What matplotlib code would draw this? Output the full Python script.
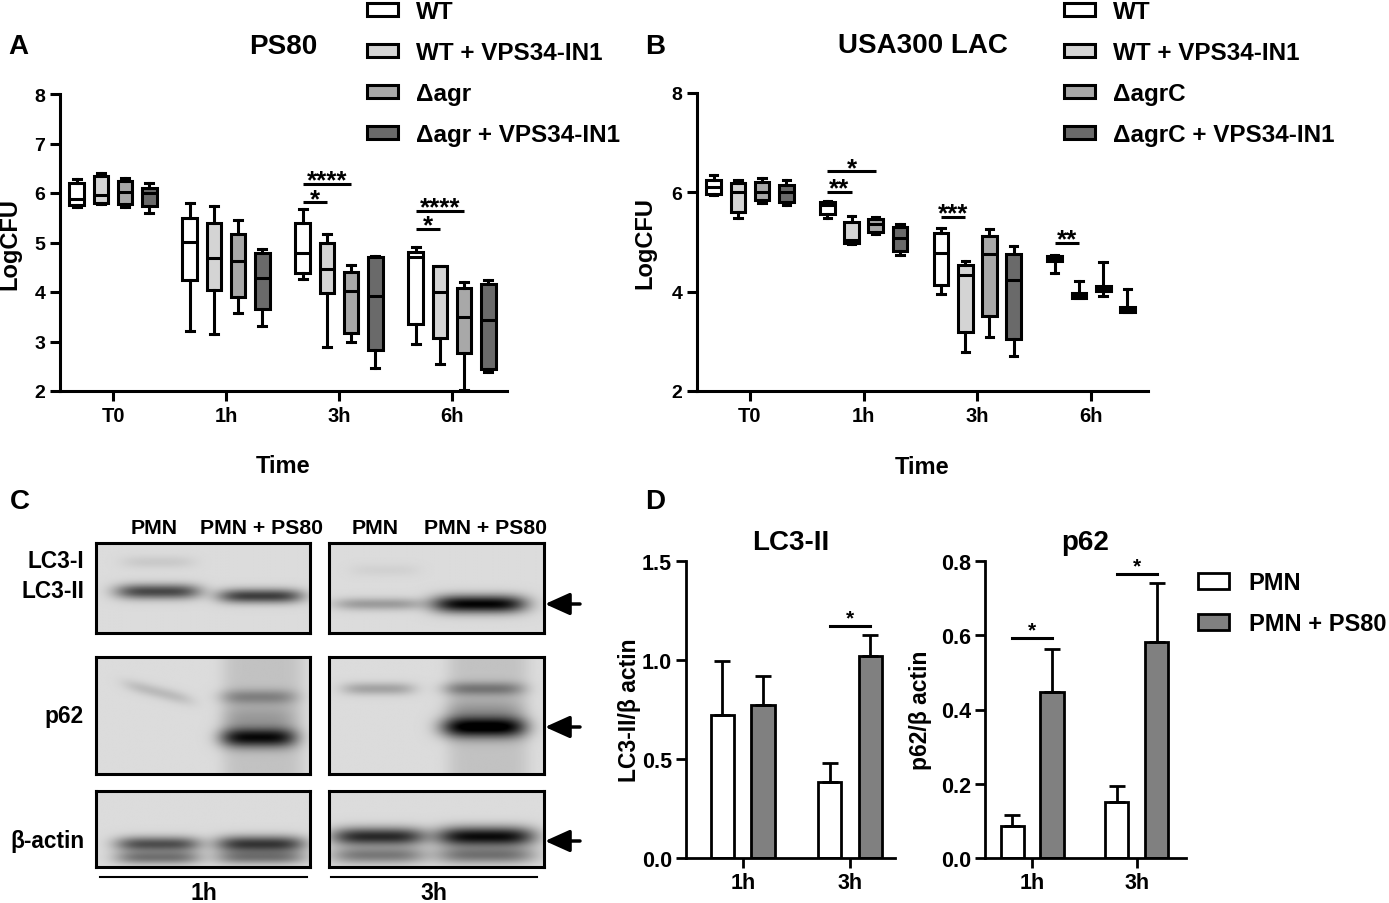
import numpy as np
import matplotlib
matplotlib.use('Agg')
import matplotlib.pyplot as plt
from matplotlib.patches import Patch, FancyArrowPatch
from matplotlib.lines import Line2D

plt.rcParams['font.family'] = ['Liberation Sans', 'DejaVu Sans']
plt.rcParams['font.weight'] = 'bold'
plt.rcParams['axes.labelweight'] = 'bold'

# ---------- datos ----------
times = ['T0', '1h', '3h', '6h']
cepas_ps80 = ['WT', 'WT + VPS34-IN1', '\u0394agr', '\u0394agr + VPS34-IN1']
cepas_lac = ['WT', 'WT + VPS34-IN1', '\u0394agrC', '\u0394agrC + VPS34-IN1']
colores = ['#ffffff', '#d4d4d4', '#a8a8a8', '#6a6a6a']

# [min, q1, mediana, q3, max] por tiempo
ps80_wt = [[5.72, 5.76, 5.87, 6.20, 6.28], [3.21, 4.24, 5.02, 5.49, 5.80],
           [4.27, 4.38, 4.78, 5.40, 5.67], [2.95, 3.36, 4.70, 4.81, 4.91]]
ps80_wt_vps = [[5.77, 5.80, 5.95, 6.35, 6.40], [3.16, 4.04, 4.68, 5.39, 5.74],
               [2.89, 3.97, 4.46, 4.99, 5.18], [2.54, 3.08, 4.00, 4.52, 4.53]]
ps80_agr = [[5.72, 5.77, 6.02, 6.25, 6.30], [3.58, 3.90, 4.62, 5.18, 5.46],
            [2.98, 3.18, 4.02, 4.41, 4.55], [2.03, 2.76, 3.50, 4.08, 4.20]]
ps80_agr_vps = [[5.60, 5.74, 5.99, 6.10, 6.21], [3.31, 3.66, 4.29, 4.78, 4.86],
                [2.47, 2.83, 3.91, 4.70, 4.73], [2.38, 2.45, 3.43, 4.16, 4.24]]

lac_wt = [[5.94, 5.97, 6.10, 6.25, 6.34], [5.48, 5.57, 5.75, 5.80, 5.82],
          [3.96, 4.14, 4.78, 5.19, 5.29], [4.38, 4.62, 4.66, 4.71, 4.73]]
lac_wt_vps = [[5.48, 5.60, 6.00, 6.18, 6.24], [4.96, 4.98, 5.05, 5.40, 5.52],
              [2.79, 3.19, 4.33, 4.53, 4.62], [3.88, 3.88, 3.92, 3.97, 4.21]]
lac_agr = [[5.78, 5.84, 6.00, 6.20, 6.28], [5.16, 5.20, 5.37, 5.47, 5.50],
           [3.09, 3.51, 4.75, 5.13, 5.27], [3.92, 4.01, 4.06, 4.11, 4.60]]
lac_agr_vps = [[5.75, 5.80, 6.00, 6.15, 6.24], [4.73, 4.81, 5.08, 5.31, 5.37],
               [2.71, 3.05, 4.24, 4.75, 4.91], [3.59, 3.59, 3.64, 3.69, 4.06]]

# (tiempo, cepa a, cepa b, altura, texto)
sig_ps80 = [(2, 0, 1, 5.81, '*'), (2, 0, 2, 6.19, '****'),
            (3, 0, 1, 5.27, '*'), (3, 0, 2, 5.64, '****')]
sig_lac = [(1, 0, 1, 6.00, '**'), (1, 0, 2, 6.42, '*'),
           (2, 0, 1, 5.51, '***'), (3, 0, 1, 4.98, '**')]

# panel D
grupos_d = ['1h', '3h']
lc3_pmn = [0.724, 0.386]
lc3_pmn_err = [0.272, 0.094]
lc3_ps80 = [0.773, 1.018]
lc3_ps80_err = [0.147, 0.109]
p62_pmn = [0.085, 0.150]
p62_pmn_err = [0.031, 0.044]
p62_ps80 = [0.448, 0.583]
p62_ps80_err = [0.115, 0.157]
sig_lc3 = [(1, 1.17, '*')]
sig_p62 = [(0, 0.592, '*'), (1, 0.764, '*')]

# bandas del western blot: (x, y, semiancho, grosor, oscuridad, inclinacion)
lc3_1h = [(0.29, 0.54, 0.20, 0.085, 0.58, 0), (0.29, 0.21, 0.17, 0.07, 0.07, 0),
          (0.77, 0.59, 0.20, 0.08, 0.62, 0)]
lc3_3h = [(0.23, 0.68, 0.21, 0.07, 0.25, 0), (0.26, 0.30, 0.16, 0.07, 0.04, 0),
          (0.70, 0.68, 0.22, 0.10, 0.85, 0)]
p62_1h = [(0.29, 0.30, 0.16, 0.055, 0.13, 0.45), (0.76, 0.34, 0.18, 0.065, 0.25, 0),
          (0.76, 0.69, 0.18, 0.085, 0.72, 0), (0.76, 0.52, 0.17, 0.11, 0.15, 0)]
p62_3h = [(0.23, 0.27, 0.17, 0.055, 0.22, 0), (0.72, 0.27, 0.19, 0.06, 0.30, 0),
          (0.72, 0.60, 0.20, 0.09, 0.82, 0), (0.72, 0.45, 0.18, 0.10, 0.15, 0)]
actin_1h = [(0.29, 0.70, 0.20, 0.10, 0.55, 0), (0.29, 0.88, 0.20, 0.09, 0.40, 0),
            (0.77, 0.70, 0.21, 0.11, 0.65, 0), (0.77, 0.88, 0.21, 0.09, 0.38, 0)]
actin_3h = [(0.23, 0.60, 0.22, 0.12, 0.70, 0), (0.23, 0.85, 0.22, 0.11, 0.38, 0),
            (0.73, 0.60, 0.23, 0.13, 0.82, 0), (0.73, 0.85, 0.23, 0.11, 0.40, 0)]
# fondo oscuro de carril: (x0, x1, oscuridad)
p62_1h_carril = [(0.59, 0.97, 0.10)]
p62_3h_carril = [(0.55, 0.93, 0.10)]

W, H = 1389, 904
fig = plt.figure(figsize=(W / 100, H / 100), dpi=100)


def pax(x0, y0, x1, y1):
    return fig.add_axes([x0 / W, 1 - y1 / H, (x1 - x0) / W, (y1 - y0) / H])


def fpos(x, y):
    return x / W, 1 - y / H


def estilo(ax, lw=2.2):
    for s in ['top', 'right']:
        ax.spines[s].set_visible(False)
    for s in ['left', 'bottom']:
        ax.spines[s].set_linewidth(lw)
    ax.tick_params(width=lw, length=7.5, direction='out', pad=3)


offsets = [-0.32, -0.106, 0.106, 0.32]


def panel_box(ax, series, sigs, titulo, yticks):
    for k, serie in enumerate(series):
        stats = [dict(whislo=s[0], q1=s[1], med=s[2], q3=s[3], whishi=s[4], fliers=[])
                 for s in serie]
        pos = [i + offsets[k] for i in range(len(times))]
        ax.bxp(stats, positions=pos, widths=0.13, capwidths=0.065, showfliers=False,
               patch_artist=True, manage_ticks=False,
               boxprops=dict(facecolor=colores[k], edgecolor='black', linewidth=2.2),
               medianprops=dict(color='black', linewidth=2.2),
               whiskerprops=dict(color='black', linewidth=2.2),
               capprops=dict(color='black', linewidth=2.2))
    for t, a, b, y, txt in sigs:
        x1, x2 = t + offsets[a], t + offsets[b]
        ax.plot([x1, x2], [y, y], color='black', lw=2.2, solid_capstyle='butt', clip_on=False)
        ax.annotate(txt, xy=((x1 + x2) / 2, y), xytext=(0, -2.5), textcoords='offset points',
                    ha='center', va='baseline', fontsize=18.5)
    ax.set_ylim(2, 8)
    ax.set_yticks(yticks)
    ax.set_xticks(range(len(times)))
    ax.set_xticklabels(times)
    ax.tick_params(axis='y', labelsize=14)
    ax.tick_params(axis='x', labelsize=14.5)
    ax.set_ylabel('LogCFU', fontsize=17)
    ax.set_xlabel('Time', fontsize=17)
    ax.xaxis.label.set_va('center')
    ax.xaxis.set_label_coords(0.5, -75 / 297)
    ax.text(0.5, 1 + 48 / 297, titulo, transform=ax.transAxes, ha='center', va='center',
            fontsize=20)
    estilo(ax)


# ---------- panel A ----------
axA = pax(60, 95, 507, 392)
panel_box(axA, [ps80_wt, ps80_wt_vps, ps80_agr, ps80_agr_vps], sig_ps80, 'PS80',
          [2, 3, 4, 5, 6, 7, 8])
axA.set_xlim((60 - 113) / 113, (507 - 113) / 113)
axA.yaxis.set_label_coords((21 - 60) / 447, 0.5)

# ---------- panel B ----------
axB = pax(697, 94, 1148, 392)
panel_box(axB, [lac_wt, lac_wt_vps, lac_agr, lac_agr_vps], sig_lac, 'USA300 LAC',
          [2, 4, 6, 8])
axB.set_xlim((697 - 750) / 113.7, (1148 - 750) / 113.7)
axB.yaxis.set_label_coords((656 - 697) / 451, 0.5)


def leyenda(nombres, x):
    handles = [Patch(facecolor=c, edgecolor='black', linewidth=2.2) for c in colores]
    fig.legend(handles, nombres, loc='upper left', bbox_to_anchor=fpos(x, 1),
               frameon=False, fontsize=17.5, handlelength=1.27, handleheight=0.45,
               handletextpad=0.75, labelspacing=0.74, borderpad=0, borderaxespad=0)


leyenda(cepas_ps80, 367)
leyenda(cepas_lac, 1064)

# ---------- panel C ----------
def blot(ax, bandas, carriles=(), fondo=0.86):
    xs = np.linspace(0, 1, 300)
    ys = np.linspace(0, 1, 150)
    X, Y = np.meshgrid(xs, ys)
    osc = np.zeros_like(X)
    for x0, x1, d in carriles:
        osc += d * np.exp(-((X - (x0 + x1) / 2) / ((x1 - x0) / 2)) ** 6)
    for xc, yc, hw, th, d, incl in bandas:
        yy = yc + incl * (X - xc)
        osc += d * np.exp(-((X - xc) / hw) ** 4) * np.exp(-((Y - yy) / th) ** 2)
    img = np.clip(fondo - osc, 0, 1)
    ax.imshow(img, cmap='gray', vmin=0, vmax=1, aspect='auto', extent=[0, 1, 1, 0],
              interpolation='bilinear')
    ax.set_xticks([])
    ax.set_yticks([])
    for s in ax.spines.values():
        s.set_linewidth(2.2)


filas = [(544, 634), (658, 775), (792, 868)]
col_izq, col_der = (96, 310), (329, 544)
blot(pax(col_izq[0], filas[0][0], col_izq[1], filas[0][1]), lc3_1h)
blot(pax(col_der[0], filas[0][0], col_der[1], filas[0][1]), lc3_3h)
blot(pax(col_izq[0], filas[1][0], col_izq[1], filas[1][1]), p62_1h, p62_1h_carril)
blot(pax(col_der[0], filas[1][0], col_der[1], filas[1][1]), p62_3h, p62_3h_carril)
blot(pax(col_izq[0], filas[2][0], col_izq[1], filas[2][1]), actin_1h)
blot(pax(col_der[0], filas[2][0], col_der[1], filas[2][1]), actin_3h)

for x, txt in [(154, 'PMN'), (262, 'PMN + PS80'), (375, 'PMN'), (485, 'PMN + PS80')]:
    fig.text(*fpos(x, 529), txt, ha='center', va='center', fontsize=15.3)
for y, txt in [(562, 'LC3-I'), (592, 'LC3-II'), (717, 'p62'), (842, '\u03b2-actin')]:
    fig.text(*fpos(84, y), txt, ha='right', va='center', fontsize=16.3)
for (x0, x1), txt in [((100, 307), '1h'), ((331, 537), '3h')]:
    fig.add_artist(Line2D([x0 / W, x1 / W], [1 - 878 / H] * 2, color='black', lw=1.5,
                          transform=fig.transFigure))
    fig.text(*fpos((x0 + x1) / 2, 894), txt, ha='center', va='center', fontsize=16.5)
for y in [605, 728, 842]:
    fig.add_artist(FancyArrowPatch(
        fpos(580, y), fpos(545, y), transform=fig.transFigure,
        arrowstyle='-|>,head_length=1.0,head_width=0.45', mutation_scale=15,
        shrinkA=0, shrinkB=0, lw=2.5, color='black'))

# ---------- panel D ----------
def panel_bar(ax, pmn, pmn_err, ps80, ps80_err, sigs, ymax, yticks, titulo, ylab):
    x = np.arange(len(grupos_d))
    off, w = 0.19, 0.22
    ax.bar(x - off, pmn, w, color='white', edgecolor='black', linewidth=2,
           yerr=[np.zeros(len(pmn)), pmn_err], capsize=6,
           error_kw=dict(elinewidth=2, capthick=2))
    ax.bar(x + off, ps80, w, color='#808080', edgecolor='black', linewidth=2,
           yerr=[np.zeros(len(ps80)), ps80_err], capsize=6,
           error_kw=dict(elinewidth=2, capthick=2))
    for g, y, txt in sigs:
        ax.plot([g - off, g + off], [y, y], color='black', lw=2.2, clip_on=False)
        ax.annotate(txt, xy=(g, y), xytext=(0, 2), textcoords='offset points',
                    ha='center', va='baseline', fontsize=15)
    ax.set_ylim(0, ymax)
    ax.set_yticks(yticks)
    ax.set_yticklabels(['%.1f' % v for v in yticks])
    ax.set_xticks(x)
    ax.set_xticklabels(grupos_d)
    estilo(ax, 2.0)
    ax.tick_params(labelsize=15.5, length=7)
    ax.set_ylabel(ylab, fontsize=16.5)
    ax.text(0.5, 1 + 19 / 297, titulo, transform=ax.transAxes, ha='center',
            va='center', fontsize=20)


axD1 = pax(686, 562, 895, 859)
panel_bar(axD1, lc3_pmn, lc3_pmn_err, lc3_ps80, lc3_ps80_err, sig_lc3, 1.5,
          [0, 0.5, 1.0, 1.5], 'LC3-II', 'LC3-II/\u03b2 actin')
axD1.set_xlim(-0.53, 1.42)
axD1.yaxis.set_label_coords((641 - 686) / 209, 0.5)

axD2 = pax(985, 562, 1186, 859)
panel_bar(axD2, p62_pmn, p62_pmn_err, p62_ps80, p62_ps80_err, sig_p62, 0.8,
          [0, 0.2, 0.4, 0.6, 0.8], 'p62', 'p62/\u03b2 actin')
axD2.set_xlim(-0.45, 1.47)
axD2.yaxis.set_label_coords((932 - 985) / 201, 0.5)

fig.legend([Patch(facecolor='white', edgecolor='black', linewidth=2),
            Patch(facecolor='#808080', edgecolor='black', linewidth=2)],
           ['PMN', 'PMN + PS80'], loc='upper left', bbox_to_anchor=fpos(1198, 572),
           frameon=False, fontsize=17, handlelength=1.3, handleheight=0.64,
           handletextpad=0.85, labelspacing=0.78, borderpad=0, borderaxespad=0)

# letras de panel
for (x, y), letra in [((18, 47), 'A'), ((655, 47), 'B'), ((20, 502), 'C'), ((655, 502), 'D')]:
    fig.text(*fpos(x, y), letra, ha='center', va='center', fontsize=20)

fig.savefig('out.png', dpi=100)
